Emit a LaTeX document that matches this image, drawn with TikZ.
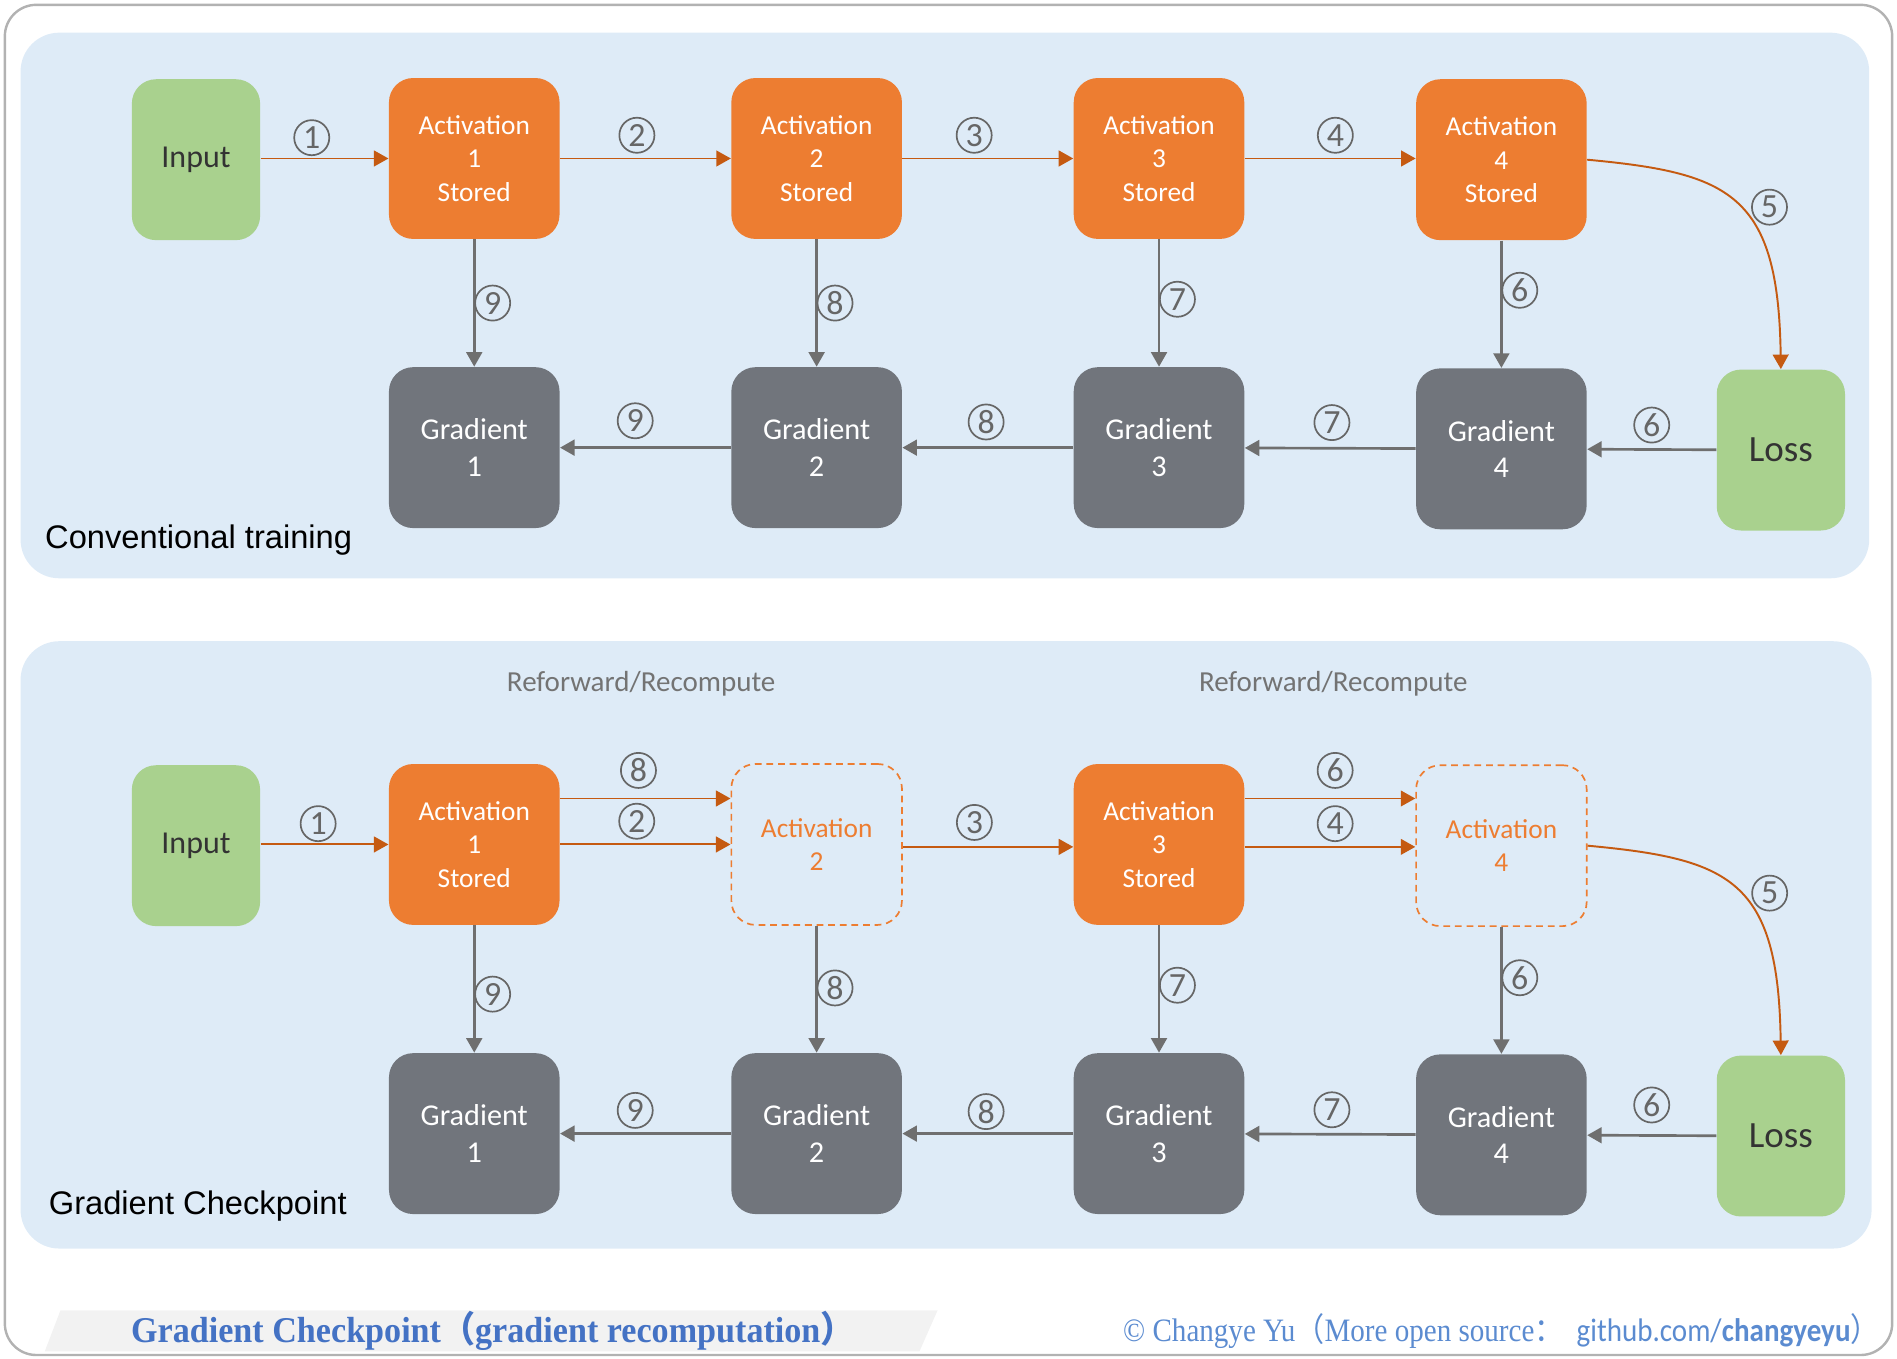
\documentclass[tikz,border=0pt]{standalone}
\usepackage{fontspec}
\setmainfont{Carlito}
\newfontfamily\capfont{Liberation Sans}
\newfontfamily\footserif{Liberation Serif}
\newfontfamily\cjkfont{Noto Sans CJK SC}
\usetikzlibrary{arrows.meta, positioning}

\definecolor{panelblue}{HTML}{DEEBF7}
\definecolor{actorange}{HTML}{ED7D31}
\definecolor{arroworange}{HTML}{C55A11}
\definecolor{inputgreen}{HTML}{A9D18E}
\definecolor{gradgray}{HTML}{71757C}
\definecolor{arrowgray}{HTML}{6F6F6F}
\definecolor{numgray}{HTML}{666666}
\definecolor{footblue}{HTML}{4472C4}
\definecolor{footlight}{HTML}{5B8BD0}
\definecolor{footstrip}{HTML}{F2F2F2}

\tikzset{
	box/.style={rounded corners=10pt, minimum width=70.5pt, minimum height=66.5pt, align=center, inner sep=0pt},
	act/.style={box, fill=actorange, text=white, font=\fontsize{11.3}{13.75}\selectfont},
	dact/.style={box, draw=actorange, line width=0.7pt, dash pattern=on 2.8pt off 2pt, text=actorange, font=\fontsize{11.3}{13.5}\selectfont},
	grad/.style={box, fill=gradgray, text=white, font=\fontsize{12.5}{15}\selectfont},
	endbox/.style={box, fill=inputgreen, text=black!80, minimum width=53pt},
	num/.style={circle, draw=numgray, line width=0.7pt, text=numgray, inner sep=0pt, minimum size=14.5pt, font=\fontsize{14}{14}\selectfont},
	fwd/.style={draw=arroworange, line width=0.8pt, -{Triangle[length=6pt, width=6.5pt]}},
	bwd/.style={draw=arrowgray, line width=1.1pt, -{Triangle[length=6pt, width=6.5pt]}},
	caption/.style={anchor=west, inner sep=0pt, font=\capfont\fontsize{13.5}{13.5}\selectfont},
	recomp/.style={text=black!55, font=\fontsize{12}{12}\selectfont}
}

\begin{document}
\begin{tikzpicture}[x=0.5pt, y=-0.5pt]
		\useasboundingbox (0,0) rectangle (1568,1123);
		% Frame and the two panels
		\draw[black!30, line width=1pt, rounded corners=13pt] (4,4) rectangle (1564,1120);
		\fill[panelblue, rounded corners=16pt] (17,27) rectangle (1545,478);
		\fill[panelblue, rounded corners=16pt] (17,530) rectangle (1547,1032);
		
		% Conventional training
		\node[endbox, font=\fontsize{13.2}{13.2}\selectfont] (IT) at (162,132) {Input};
		\node[act] (A1) at (392,131) {Activation\\1\\Stored};
		\node[act] (A2) at (675,131) {Activation\\2\\Stored};
		\node[act] (A3) at (958,131) {Activation\\3\\Stored};
		\node[act] (A4) at (1241,132) {Activation\\4\\Stored};
		\node[grad] (G1) at (392,370) {Gradient\\1};
		\node[grad] (G2) at (675,370) {Gradient\\2};
		\node[grad] (G3) at (958,370) {Gradient\\3};
		\node[grad] (G4) at (1241,371) {Gradient\\4};
		\node[endbox, font=\fontsize{15.3}{15.3}\selectfont] (LT) at (1472,372) {Loss};
		\node[caption] (CT) at (37,446) {Conventional training};
		
		\draw[fwd] (IT.east |- A1) -- node[num, pos=.4, above=1pt] {1} (A1);
		\draw[fwd] (A1) -- node[num, pos=.45, above=2pt] {2} (A2);
		\draw[fwd] (A2) -- node[num, pos=.42, above=2pt] {3} (A3);
		\draw[fwd] (A3.east) -- node[num, pos=.53, above=2pt] {4} (A3.east -| A4.west);
		\draw[fwd] (A4.east) .. controls +(118,11) and +(-2,-145) .. node[num, pos=.52, right=4.5pt] {5} (LT.north);
		\draw[bwd] (A4) -- node[num, pos=.39, right=0pt] {6} (G4);
		\draw[bwd] (A3) -- node[num, pos=.47, right=0pt] {7} (G3);
		\draw[bwd] (A2) -- node[num, pos=.5, right=0pt] {8} (G2);
		\draw[bwd] (A1) -- node[num, pos=.5, right=0pt] {9} (G1);
		\draw[bwd] (LT) -- node[num, pos=.5, above=2.5pt] {6} (G4);
		\draw[bwd] (G4) -- node[num, pos=.49, above=3pt] {7} (G3);
		\draw[bwd] (G3) -- node[num, pos=.51, above=3pt] {8} (G2);
		\draw[bwd] (G2) -- node[num, pos=.56, above=3.5pt] {9} (G1);
		
		% Gradient checkpoint
		\node[endbox, font=\fontsize{13.2}{13.2}\selectfont] (IB) at (162,699) {Input};
		\node[act] (C1) at (392,698) {Activation\\1\\Stored};
		\node[dact] (C2) at (675,698) {Activation\\2};
		\node[act] (C3) at (958,698) {Activation\\3\\Stored};
		\node[dact] (C4) at (1241,699) {Activation\\4};
		\node[grad] (D1) at (392,937) {Gradient\\1};
		\node[grad] (D2) at (675,937) {Gradient\\2};
		\node[grad] (D3) at (958,937) {Gradient\\3};
		\node[grad] (D4) at (1241,938) {Gradient\\4};
		\node[endbox, font=\fontsize{15.3}{15.3}\selectfont] (LB) at (1472,939) {Loss};
		\node[caption] (GC) at (40,997) {Gradient Checkpoint};
		\node[recomp] (R1) at (530,565) {Reforward/Recompute};
		\node[recomp] (R2) at (1102,565) {Reforward/Recompute};
		
		\draw[fwd] (IB.east |- C1) -- node[num, pos=.45, above=1pt] {1} (C1);
		\draw[fwd] ([yshift=19pt]C1.east) -- node[num, pos=.46, above=4pt] {8} ([yshift=19pt]C1.east -| C2.west);
		\draw[fwd] (C1) -- node[num, pos=.45, above=2pt] {2} (C2);
		\draw[fwd] ([yshift=-1pt]C2.east) -- node[num, pos=.42, above=2.5pt] {3} ([yshift=-1pt]C2.east -| C3.west);
		\draw[fwd] ([yshift=19pt]C3.east) -- node[num, pos=.53, above=4pt] {6} ([yshift=19pt]C3.east -| C4.west);
		\draw[fwd] ([yshift=-1pt]C3.east) -- node[num, pos=.53, above=2pt] {4} ([yshift=-1pt]C3.east -| C4.west);
		\draw[fwd] (C4.east) .. controls +(118,11) and +(-2,-145) .. node[num, pos=.52, right=4.5pt] {5} (LB.north);
		\draw[bwd] (C4) -- node[num, pos=.4, right=0pt] {6} (D4);
		\draw[bwd] (C3) -- node[num, pos=.47, right=0pt] {7} (D3);
		\draw[bwd] (C2) -- node[num, pos=.49, right=0pt] {8} (D2);
		\draw[bwd] (C1) -- node[num, pos=.54, right=0pt] {9} (D1);
		\draw[bwd] (LB) -- node[num, pos=.5, above=5pt] {6} (D4);
		\draw[bwd] (D4) -- node[num, pos=.49, above=2.5pt] {7} (D3);
		\draw[bwd] (D3) -- node[num, pos=.51, above=1.5pt] {8} (D2);
		\draw[bwd] (D2) -- node[num, pos=.56, above=2pt] {9} (D1);
		
		% Footer
		\fill[footstrip] (50,1083) -- (775,1083) -- (760,1117) -- (37,1117) -- cycle;
		\node[anchor=west, text=footblue, inner sep=0pt] (FT) at (108,1100) {\footserif\bfseries\fontsize{15}{15}\selectfont\scalebox{0.94}[1]{Gradient Checkpoint{\cjkfont （}gradient recomputation{\cjkfont ）}}};
		\node[anchor=west, text=footlight, inner sep=0pt] (FR) at (928,1100) {\fontsize{13.5}{13.5}\selectfont\scalebox{0.89}[1]{{\footserif © Changye Yu{\cjkfont （}More open source{\cjkfont ：}}\ \ github.com/\textbf{changyeyu}{\cjkfont ）}}};
\end{tikzpicture}
\end{document}
